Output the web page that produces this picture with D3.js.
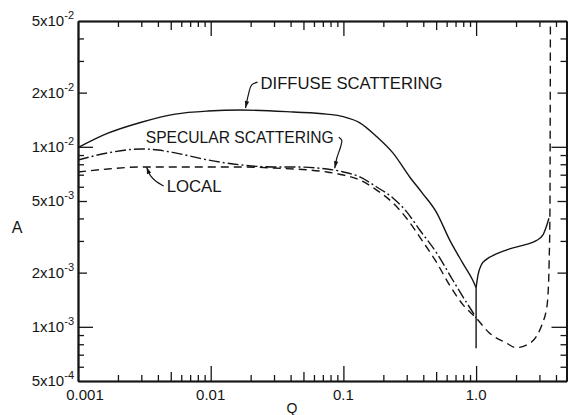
<!DOCTYPE html>
<html>
<head>
<meta charset="utf-8">
<script src="https://cdn.jsdelivr.net/npm/d3@7"></script>
<style>
  body { margin: 0; background: #fff; }
  text { font-family: "Liberation Sans", Arial, sans-serif; fill: #151515; }
</style>
</head>
<body>
<svg id="chart" width="568" height="415"></svg>
<script>
// diffuse scattering, left branch down to the cusp at Q = 1
const diffuseQ = [0.001, 0.00168, 0.003, 0.0054, 0.0095, 0.017, 0.042, 0.075, 0.1, 0.133, 0.178, 0.236, 0.316, 0.396, 0.505, 0.633, 0.793, 0.942, 1.0];
const diffuseA = [0.0099, 0.0119, 0.0137, 0.0152, 0.0158, 0.0160, 0.0156, 0.0152, 0.0147, 0.0136, 0.0114, 0.00925, 0.0068, 0.0055, 0.0043, 0.00303, 0.00226, 0.00182, 0.00165];
// the spike straight down at Q = 1
const spikeQ = [1.0, 1.0];
const spikeA = [0.00165, 0.00076];
// diffuse scattering, right branch
const diffuseRightQ = [1.0, 1.033, 1.096, 1.196, 1.42, 1.79, 2.39, 2.84, 3.19, 3.38, 3.54];
const diffuseRightA = [0.00165, 0.00194, 0.00221, 0.00237, 0.00254, 0.00271, 0.00287, 0.00301, 0.00324, 0.0036, 0.00401];
// specular scattering
const specularQ = [0.001, 0.00168, 0.003, 0.004, 0.0054, 0.0095, 0.017, 0.03, 0.042, 0.075, 0.1, 0.133, 0.178, 0.236, 0.3, 0.376, 0.505, 0.667, 0.849, 0.96, 1.0];
const specularA = [0.00845, 0.00925, 0.00973, 0.0096, 0.00925, 0.00845, 0.00793, 0.00773, 0.00773, 0.00753, 0.00725, 0.0068, 0.00598, 0.0052, 0.00435, 0.00345, 0.00257, 0.00182, 0.00136, 0.00118, 0.00112];
// local
const localQ = [0.001, 0.00168, 0.003, 0.0054, 0.0095, 0.017, 0.03, 0.075, 0.1, 0.133, 0.178, 0.236, 0.3, 0.4, 0.5, 0.633, 0.8, 1.0, 1.26, 1.69, 1.99, 2.39, 2.84, 3.17, 3.38, 3.46, 3.55, 3.6, 3.63];
const localA = [0.00725, 0.00753, 0.00773, 0.00773, 0.00773, 0.00773, 0.00762, 0.00725, 0.00697, 0.00654, 0.00575, 0.00488, 0.0040, 0.00295, 0.0023, 0.0017, 0.00132, 0.00112, 0.000924, 0.000813, 0.000766, 0.000792, 0.000881, 0.00105, 0.00124, 0.00141, 0.00226, 0.0043, 0.05];

// tick labels
const qLabelValues = [0.001, 0.01, 0.1, 1.0];
const qLabels = ["0.001", "0.01", "0.1", "1.0"];
const aLabelValues = [5e-2, 2e-2, 1e-2, 5e-3, 2e-3, 1e-3, 5e-4];
const aLabelMant = ["5x10", "2x10", "1x10", "5x10", "2x10", "1x10", "5x10"];
const aLabelExp = ["-2", "-2", "-2", "-3", "-3", "-3", "-4"];

// curve labels: anchored at the arrow tip (q, a), text and leader offsets in px
const notes = [
  {text: "DIFFUSE SCATTERING", q: 0.0183, a: 0.0160, tx: 15, ty: -21, len: 182,
   leader: [[12, -28], [6, -25], [3, -16], [0, -2]]},
  {text: "SPECULAR SCATTERING", q: 0.0861, a: 0.0076, tx: -189, ty: -25, len: 188,
   leader: [[4, -31], [7, -28], [6, -22], [2, -10], [0, 0]]},
  {text: "LOCAL", q: 0.00329, a: 0.00773, tx: 20, ty: 25, len: 55,
   leader: [[17, 19], [9, 14], [4, 9], [1.5, 4], [0, 0]]}
];

const svg = d3.select("#chart");
const width = 568, height = 415;
const margin = {top: 21, right: 1.5, bottom: 34, left: 78};

const x = d3.scaleLog().domain([0.001, 4.8]).range([margin.left, width - margin.right]);
const y = d3.scaleLog().domain([5e-4, 5e-2]).range([height - margin.bottom, margin.top]);

// tick positions, 1..9 per decade, inside the domain
function logTicks(lo, hi, decades) {
  let out = [];
  decades.forEach(d => {
    for (let m = 1; m <= 9; m++) {
      let v = +(m * d).toPrecision(3);
      if (v > lo * 1.001 && v < hi * 0.999) out.push({v: v, m: m});
    }
  });
  return out;
}
const xt = logTicks(0.001, 4.8, [0.001, 0.01, 0.1, 1]);
const yt = logTicks(5e-4, 5e-2, [1e-4, 1e-3, 1e-2]);

const ink = "#151515";

function tickGroup(axisFn, scale, vals, size, transform) {
  let g = svg.append("g")
    .attr("transform", transform)
    .call(axisFn(scale).tickValues(vals).tickSize(size).tickSizeOuter(0).tickFormat(""));
  g.select(".domain").attr("stroke", ink).attr("stroke-width", 1.6);
  g.selectAll(".tick line").attr("stroke", ink).attr("stroke-width", 1.3);
  return g;
}

// long ticks at decades, medium at labelled / half-decade values
const xLen = m => m === 1 ? 15 : (m === 5 ? 9 : 6);
const yLen = m => m === 1 ? 15 : (m === 2 || m === 5 ? 9 : 6);

[15, 9, 6].forEach(len => {
  let xv = xt.filter(t => xLen(t.m) === len).map(t => t.v);
  tickGroup(d3.axisBottom, x, xv, -len, `translate(0,${height - margin.bottom})`);
  tickGroup(d3.axisTop, x, xv, -len, `translate(0,${margin.top})`);
  let yv = yt.filter(t => yLen(t.m) === len).map(t => t.v);
  tickGroup(d3.axisLeft, y, yv, -len, `translate(${margin.left},0)`);
  tickGroup(d3.axisRight, y, yv, -len, `translate(${width - margin.right},0)`);
});

// x tick labels
svg.append("g").selectAll("text")
  .data(qLabelValues)
  .join("text")
  .attr("x", (d, i) => x(d) + (i === 0 ? 7 : 0))
  .attr("y", height - margin.bottom + 19)
  .attr("text-anchor", "middle")
  .attr("font-size", 15)
  .text((d, i) => qLabels[i]);

// y tick labels with superscript exponents
const yl = svg.append("g").selectAll("text")
  .data(aLabelValues)
  .join("text")
  .attr("x", 74)
  .attr("y", d => y(d) + 5)
  .attr("text-anchor", "end")
  .attr("font-size", 15);
yl.append("tspan").text((d, i) => aLabelMant[i]);
yl.append("tspan").attr("dy", -7).attr("font-size", 11).text((d, i) => aLabelExp[i]);

// axis titles
svg.append("text").attr("x", 17).attr("y", 233).attr("text-anchor", "middle")
  .attr("font-size", 16).text("A");
svg.append("text").attr("x", 292).attr("y", 413).attr("text-anchor", "middle")
  .attr("font-size", 14).text("Q");

// curves
svg.append("clipPath").attr("id", "plot")
  .append("rect")
  .attr("x", margin.left).attr("y", margin.top)
  .attr("width", width - margin.left - margin.right)
  .attr("height", height - margin.top - margin.bottom);

const plot = svg.append("g").attr("clip-path", "url(#plot)");
const zip = (qs, as) => qs.map((q, i) => [q, as[i]]);
const smooth = d3.line().x(d => x(d[0])).y(d => y(d[1])).curve(d3.curveMonotoneX);
const straight = d3.line().x(d => x(d[0])).y(d => y(d[1]));

function curve(data, gen, dash) {
  plot.append("path")
    .attr("d", gen(data))
    .attr("fill", "none")
    .attr("stroke", ink)
    .attr("stroke-width", 1.4)
    .attr("stroke-dasharray", dash);
}

curve(zip(diffuseQ, diffuseA), smooth, null);
curve(zip(spikeQ, spikeA), straight, null);
curve(zip(diffuseRightQ, diffuseRightA), smooth, null);
curve(zip(specularQ, specularA), smooth, "11,3,2,3");
curve(zip(localQ, localA), smooth, "8,5");

// labels with leader arrows
const leaderLine = d3.line().curve(d3.curveCatmullRom);
notes.forEach(n => {
  let px = x(n.q), py = y(n.a);
  let g = svg.append("g").attr("transform", `translate(${px},${py})`);
  g.append("text")
    .attr("x", n.tx).attr("y", n.ty)
    .attr("font-size", 17)
    .attr("textLength", n.len)
    .attr("lengthAdjust", "spacingAndGlyphs")
    .text(n.text);
  g.append("path")
    .attr("d", leaderLine(n.leader))
    .attr("fill", "none")
    .attr("stroke", ink)
    .attr("stroke-width", 1.2);
  let p1 = n.leader[n.leader.length - 2], p2 = n.leader[n.leader.length - 1];
  let ang = Math.atan2(p2[1] - p1[1], p2[0] - p1[0]);
  let L = 7, w = 2.2;
  let bx = p2[0] - L * Math.cos(ang), by = p2[1] - L * Math.sin(ang);
  let nx = -Math.sin(ang) * w, ny = Math.cos(ang) * w;
  g.append("path")
    .attr("d", `M${p2[0]},${p2[1]}L${bx + nx},${by + ny}L${bx - nx},${by - ny}Z`)
    .attr("fill", ink);
});
</script>
</body>
</html>
